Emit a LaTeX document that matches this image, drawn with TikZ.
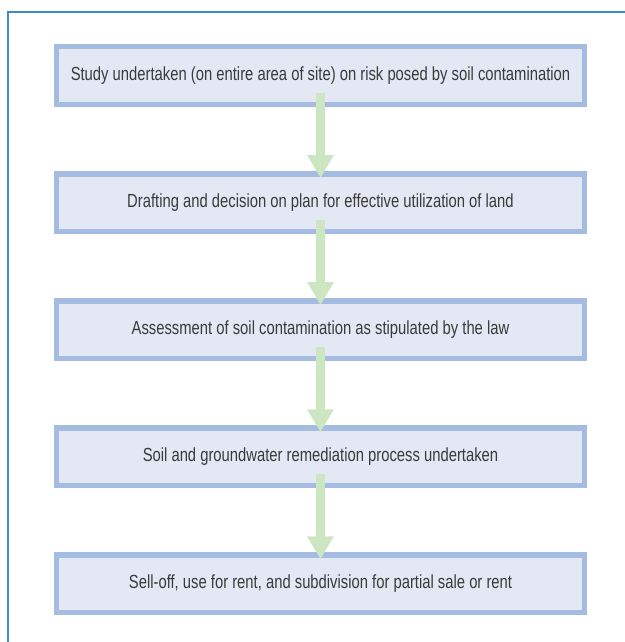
\documentclass[tikz,border=0pt]{standalone}
\usepackage{fontspec}
\setmainfont{Liberation Sans}[FakeStretch=0.78]
\usetikzlibrary{arrows.meta, positioning, backgrounds}
\definecolor{frameblue}{HTML}{3C8DC8}
\definecolor{boxborder}{HTML}{A4BCE1}
\definecolor{boxfill}  {HTML}{E3E8F4}
\definecolor{flowgreen}{HTML}{CDE6C2}
\definecolor{textgray} {HTML}{3A3A3A}

\begin{document}
\begin{tikzpicture}[
    node distance=1.6cm,
    every node/.style={font=\fontsize{13.5}{16}\selectfont, text=textgray},
    stage/.style={
        draw=boxborder, fill=boxfill, line width=0.1375cm,
        minimum width=13.19cm, minimum height=1.44cm,
        align=center, inner sep=0.1cm
    },
    flow/.style={
        draw=flowgreen, line width=0.225cm,
        -{Triangle[width=0.625cm, length=0.575cm]}
    }
]

% ── PAGE ───────────────────────────────────────────────────────
\useasboundingbox (0,0) rectangle (15.625,-16.05);
\begin{scope}[on background layer]
    \fill[white] (0,0) rectangle (15.625,-16.05);
\end{scope}
\draw[frameblue, line width=0.05cm] (0.2,-16.05) -- (0.2,-0.3) -- (15.625,-0.3);

% === STAGES ===
\node[stage] (study) at (8.0125,-1.8875)
    {Study undertaken (on entire area of site) on risk posed by soil contamination};

\node[stage, below=of study] (plan)
    {Drafting and decision on plan for effective utilization of land};

\node[stage, below=of plan] (assess)
    {Assessment of soil contamination as stipulated by the law};

\node[stage, below=of assess] (remedy)
    {Soil and groundwater remediation process undertaken};

\node[stage, below=of remedy] (selloff)
    {Sell-off, use for rent, and subdivision for partial sale or rent};

% ── ARROWS ─────────────────────────────────────────────────────
\draw[flow] ([yshift=0.35cm]study.south)  -- ([yshift=-0.175cm]plan.north);
\draw[flow] ([yshift=0.35cm]plan.south)   -- ([yshift=-0.175cm]assess.north);
\draw[flow] ([yshift=0.35cm]assess.south) -- ([yshift=-0.175cm]remedy.north);
\draw[flow] ([yshift=0.35cm]remedy.south) -- ([yshift=-0.175cm]selloff.north);

\end{tikzpicture}
\end{document}
